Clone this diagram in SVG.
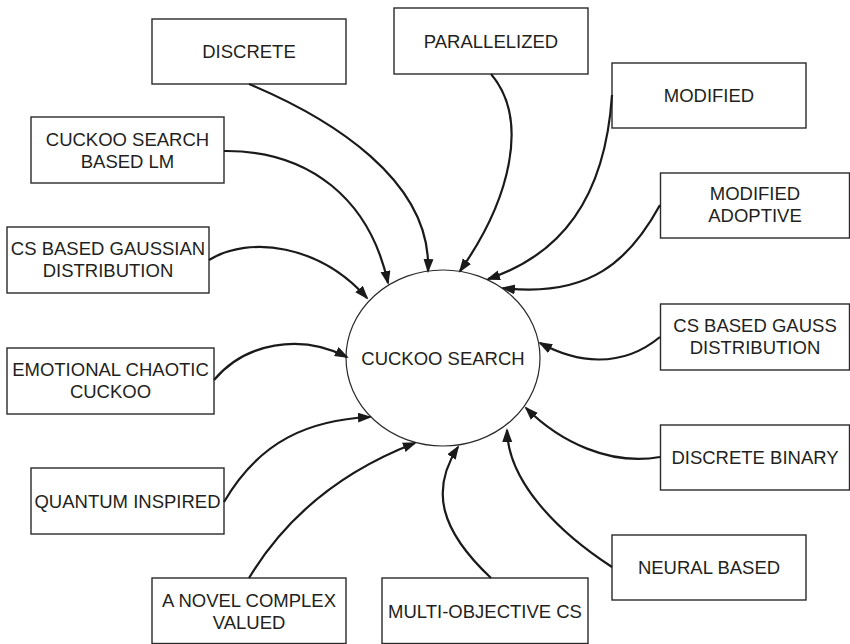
<svg xmlns="http://www.w3.org/2000/svg" width="850" height="644" viewBox="0 0 850 644">
  <style>
    .box { fill: #ffffff; stroke: #2a2a2a; stroke-width: 1.4; }
    .hub { fill: #ffffff; stroke: #2a2a2a; stroke-width: 1.2; }
    .lbl { font-family: "Liberation Sans", Arial, Helvetica, sans-serif; font-size: 18.5px; fill: #231f20; text-anchor: middle; }
    .edge { fill: none; stroke: #1a1a1a; stroke-width: 2.2; marker-end: url(#head); }
  </style>
  <defs>
    <marker id="head" markerUnits="userSpaceOnUse" markerWidth="16" markerHeight="12" refX="12" refY="5" orient="auto">
      <path d="M0,0 L14,5 L0,10 Z" fill="#1a1a1a"/>
    </marker>
  </defs>
  <rect width="850" height="644" fill="#ffffff"/>

  <!-- central node -->
  <g id="cuckoo-search">
    <ellipse class="hub" cx="443" cy="358" rx="97" ry="88"/>
    <text class="lbl" x="443" y="364.5">CUCKOO SEARCH</text>
  </g>

  <!-- variant nodes -->
  <g id="discrete">
    <rect class="box" x="152" y="19" width="194" height="65"/>
    <text class="lbl" x="249" y="58">DISCRETE</text>
  </g>
  <g id="parallelized">
    <rect class="box" x="394" y="8" width="194" height="66"/>
    <text class="lbl" x="491" y="47.5">PARALLELIZED</text>
  </g>
  <g id="modified">
    <rect class="box" x="612" y="63" width="194" height="65"/>
    <text class="lbl" x="709" y="102">MODIFIED</text>
  </g>
  <g id="modified-adoptive">
    <rect class="box" x="660.5" y="173" width="189" height="65"/>
    <text class="lbl" x="755" y="200">MODIFIED</text>
    <text class="lbl" x="755" y="222">ADOPTIVE</text>
  </g>
  <g id="cs-gauss">
    <rect class="box" x="660.5" y="304" width="189" height="66"/>
    <text class="lbl" x="755" y="332">CS BASED GAUSS</text>
    <text class="lbl" x="755" y="354">DISTRIBUTION</text>
  </g>
  <g id="discrete-binary">
    <rect class="box" x="660.5" y="425" width="189" height="65"/>
    <text class="lbl" x="755" y="464">DISCRETE BINARY</text>
  </g>
  <g id="neural-based">
    <rect class="box" x="612" y="535" width="194" height="65"/>
    <text class="lbl" x="709" y="574">NEURAL BASED</text>
  </g>
  <g id="multi-objective">
    <rect class="box" x="382" y="578" width="206" height="65.5"/>
    <text class="lbl" x="485" y="617.5">MULTI-OBJECTIVE CS</text>
  </g>
  <g id="novel-complex">
    <rect class="box" x="152" y="578" width="194" height="65.5"/>
    <text class="lbl" x="249" y="607">A NOVEL COMPLEX</text>
    <text class="lbl" x="249" y="629">VALUED</text>
  </g>
  <g id="quantum-inspired">
    <rect class="box" x="31" y="468" width="193" height="66"/>
    <text class="lbl" x="127.5" y="507.5">QUANTUM INSPIRED</text>
  </g>
  <g id="emotional-chaotic">
    <rect class="box" x="7" y="348" width="207" height="66"/>
    <text class="lbl" x="110.5" y="375.5">EMOTIONAL CHAOTIC</text>
    <text class="lbl" x="110.5" y="397.5">CUCKOO</text>
  </g>
  <g id="cs-gaussian">
    <rect class="box" x="7" y="227" width="202" height="66"/>
    <text class="lbl" x="108" y="254.5">CS BASED GAUSSIAN</text>
    <text class="lbl" x="108" y="276.5">DISTRIBUTION</text>
  </g>
  <g id="cs-lm">
    <rect class="box" x="31" y="117" width="193" height="66"/>
    <text class="lbl" x="127.5" y="145.5">CUCKOO SEARCH</text>
    <text class="lbl" x="127.5" y="167.5">BASED LM</text>
  </g>

  <!-- curved connectors, each ending on the central ellipse -->
  <g id="connectors">
    <path class="edge" d="M249,84 C330,118 432,180 428,271"/>
    <path class="edge" d="M491,74 C530,120 510,200 460,271"/>
    <path class="edge" d="M612,95 C605,200 560,255 488,279"/>
    <path class="edge" d="M660,205 C630,260 590,298 503,288"/>
    <path class="edge" d="M660,337 C620,370 575,362 540,343"/>
    <path class="edge" d="M660,457 C610,466 560,442 526,408"/>
    <path class="edge" d="M612,567 C555,530 508,480 507,430"/>
    <path class="edge" d="M491,578 C440,530 430,490 458,447"/>
    <path class="edge" d="M249,578 C290,510 350,468 415,443"/>
    <path class="edge" d="M224,502 C260,440 310,420 370,417"/>
    <path class="edge" d="M214,380 C245,343 300,333 347,357"/>
    <path class="edge" d="M209,260 C250,235 320,245 367,298"/>
    <path class="edge" d="M224,151 C310,150 370,200 388,283"/>
  </g>
</svg>
